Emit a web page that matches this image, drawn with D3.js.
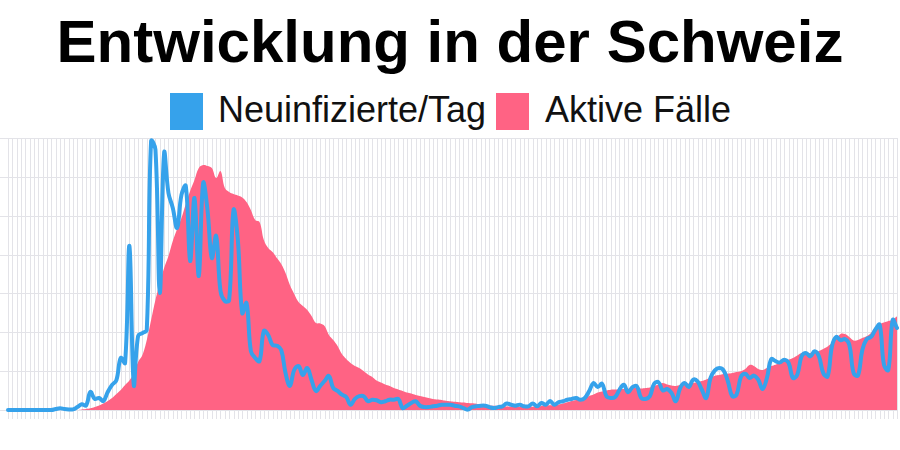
<!DOCTYPE html>
<html><head><meta charset="utf-8">
<script src="https://cdn.jsdelivr.net/npm/d3@7"></script>
<style>html,body{margin:0;padding:0;background:#fff}svg{display:block}</style>
</head><body>
<svg id="chart" width="900" height="450"></svg>
<script>
// ---- data ----
const titleText = "Entwicklung in der Schweiz";
const seriesNames = ["Neuinfizierte/Tag", "Aktive Fälle"];
const startDate = "2020-02-15";
const dayCount = 206;
const categories = d3.utcDay.range(new Date(startDate), d3.utcDay.offset(new Date(startDate), dayCount)).map(d3.utcFormat("%d.%m.%Y"));

const newCases = [
0,0,0,0,0,0,0,0,0,0,0,5,9,5,3,3,15,30,23,93,
57,62,46,93,129,154,268,242,844,130,381,396,412,1385,1340,602,1323,1117,1040,937,
1107,1153,767,1091,690,1168,1029,782,896,612,561,566,1029,875,499,551,304,268,252,407,
386,335,331,309,190,124,206,226,180,216,154,98,124,149,175,113,98,79,67,27,
57,71,71,45,53,50,40,45,53,53,57,10,22,36,45,22,15,15,19,22,
27,27,27,22,19,10,2,15,19,22,22,15,10,15,19,33,27,22,27,19,
19,33,19,36,27,46,27,40,45,53,57,62,53,62,96,139,118,135,71,62,
67,104,130,91,118,122,62,57,71,135,143,101,108,88,45,113,139,118,156,148,
104,62,165,204,216,204,148,71,79,170,187,165,177,156,108,165,262,251,245,259,
242,165,182,276,293,276,302,276,190,173,328,376,359,365,336,190,177,309,365,376,
413,439,232,206,463,422
];

const activeCases = [
0,0,0,0,0,0,0,0,0,0,0,0,0,0,0,0,0,26,51,87,
154,232,335,463,618,824,1029,1287,1518,1904,2471,2831,3603,4632,5662,6537,7309,7926,8698,9316,
9882,10603,11272,11838,12456,12610,12559,12456,11941,12301,11426,11220,11118,11040,10937,10706,10294,9779,9676,8750,
8338,8132,7823,7515,7051,6434,5971,5559,5353,5147,4838,4478,4452,4323,3860,3603,3294,2882,2625,2419,
2265,2162,2007,1827,1699,1518,1415,1312,1235,1132,1055,978,901,849,772,721,669,618,566,540,
515,474,448,422,401,386,360,345,324,293,257,232,216,206,190,180,165,154,154,154,
154,165,180,206,232,242,257,283,335,396,463,515,566,618,721,798,901,952,1004,1045,
1055,1071,1081,1096,1117,1132,1107,1132,1158,1235,1312,1390,1312,1261,1235,1287,1312,1364,1390,1441,
1493,1570,1673,1765,1801,1853,1868,1904,1956,1992,2110,2316,2265,2110,2059,2162,2265,2332,2419,2496,
2589,2676,2805,2934,2960,2934,2934,3037,3140,3268,3448,3654,3912,3912,3757,3577,3603,3706,3793,3963,
4272,4426,4504,4581,4648,4823
];

const newCasesTicks = [0,200,400,600,800,1000,1200,1400];
const activeMax = 14000;

const colors = {blue: "#36a2eb", red: "#ff6384", grid: "#e3e3e8", text: "#000"};

// ---- layout ----
const svg = d3.select("#chart");
const plotL = 8, plotR = 897, plotT = 138, plotB = 410;

const x = d3.scalePoint().domain(categories).range([plotL, plotR]);
const yL = d3.scaleLinear().domain([0, d3.max(newCasesTicks)]).range([plotB, plotT]);
const yR = d3.scaleLinear().domain([0, activeMax]).range([plotB, plotT]);

// spline like a tension-0.4 bezier line, control points capped to the plot area
function splinePath(pts, t, closeToBase) {
  const n = pts.length;
  const cps = pts.map((p1, i) => {
    const p0 = pts[Math.max(0, i - 1)], p2 = pts[Math.min(n - 1, i + 1)];
    const d01 = Math.hypot(p1[0] - p0[0], p1[1] - p0[1]);
    const d12 = Math.hypot(p2[0] - p1[0], p2[1] - p1[1]);
    let s01 = d01 / (d01 + d12), s12 = d12 / (d01 + d12);
    if (!isFinite(s01)) s01 = 0;
    if (!isFinite(s12)) s12 = 0;
    const fa = t * s01, fb = t * s12;
    const cap = (v, lo, hi) => Math.max(lo, Math.min(hi, v));
    return {
      prev: [cap(p1[0] - fa * (p2[0] - p0[0]), plotL, plotR), cap(p1[1] - fa * (p2[1] - p0[1]), plotT, plotB)],
      next: [cap(p1[0] + fb * (p2[0] - p0[0]), plotL, plotR), cap(p1[1] + fb * (p2[1] - p0[1]), plotT, plotB)]
    };
  });
  const path = d3.path();
  path.moveTo(pts[0][0], pts[0][1]);
  for (let i = 1; i < n; i++) {
    path.bezierCurveTo(cps[i - 1].next[0], cps[i - 1].next[1], cps[i].prev[0], cps[i].prev[1], pts[i][0], pts[i][1]);
  }
  if (closeToBase) {
    path.lineTo(pts[n - 1][0], closeToBase);
    path.lineTo(pts[0][0], closeToBase);
    path.closePath();
  }
  return path.toString();
}

// title
svg.append("text")
  .attr("x", 450).attr("y", 62)
  .attr("text-anchor", "middle")
  .attr("font-family", "'Liberation Sans', Arial, Helvetica, sans-serif")
  .attr("font-weight", "bold").attr("font-size", 60)
  .attr("fill", colors.text)
  .text(titleText);

// legend
const legend = svg.append("g").attr("font-family", "'Liberation Sans', Arial, Helvetica, sans-serif").attr("font-size", 36);
const legendItems = [
  {name: seriesNames[0], color: colors.blue, bx: 170, tx: 218},
  {name: seriesNames[1], color: colors.red, bx: 496, tx: 545}
];
legendItems.forEach(it => {
  legend.append("rect").attr("x", it.bx).attr("y", 93).attr("width", 33).attr("height", 37).attr("fill", it.color);
  legend.append("text").attr("x", it.tx).attr("y", 122).attr("fill", "#111").text(it.name);
});

// grid: vertical lines per category (with tick marks below)
const gx = svg.append("g").attr("transform", `translate(0,${plotB + 9})`)
  .call(d3.axisBottom(x).tickSize(-(plotB + 9 - plotT)).tickFormat(""));
gx.select(".domain").remove();
gx.selectAll("line").attr("stroke", colors.grid).attr("stroke-width", 1).attr("shape-rendering", "crispEdges");

// grid: horizontal lines
const gy = svg.append("g")
  .call(d3.axisLeft(yL).tickValues(newCasesTicks).tickSize(-plotR).tickFormat(""));
gy.select(".domain").remove();
gy.selectAll("line").attr("stroke", colors.grid).attr("stroke-width", 1).attr("shape-rendering", "crispEdges");

// active cases area
const activePts = activeCases.map((d, i) => [x(categories[i]), yR(d)]);
svg.append("path").attr("d", splinePath(activePts, 0.4, yR(0))).attr("fill", colors.red);

// new cases line
const newPts = newCases.map((d, i) => [x(categories[i]), yL(d)]);
svg.append("path").attr("d", splinePath(newPts, 0.4, null))
  .attr("fill", "none").attr("stroke", colors.blue).attr("stroke-width", 4)
  .attr("stroke-linejoin", "round").attr("stroke-linecap", "round");
</script>
</body></html>
